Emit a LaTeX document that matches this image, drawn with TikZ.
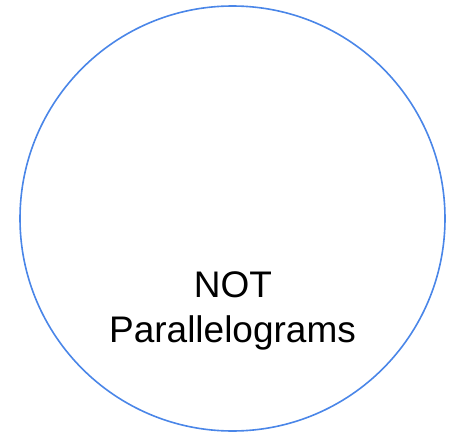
\documentclass[tikz,border=0pt]{standalone}
\usepackage{fontspec}
\setmainfont{Liberation Sans}
\definecolor{ringblue}{HTML}{4A86E8}
\begin{document}
\begin{tikzpicture}[x=1pt,y=-1pt,
  ring/.style={draw=ringblue,line width=1.6pt},
  lbl/.style={font=\fontsize{37}{47}\selectfont,align=center,text=black,inner sep=0pt}]
\useasboundingbox (0,0) rectangle (464,439);
\node[ring,circle,minimum size=425pt,inner sep=0pt] (c) at (232.5,218.5) {};
\node[lbl,anchor=base] (t1) at (233,297) {NOT};
\node[lbl,anchor=base] (t2) at (232.5,342) {Parallelograms};
\end{tikzpicture}
\end{document}
